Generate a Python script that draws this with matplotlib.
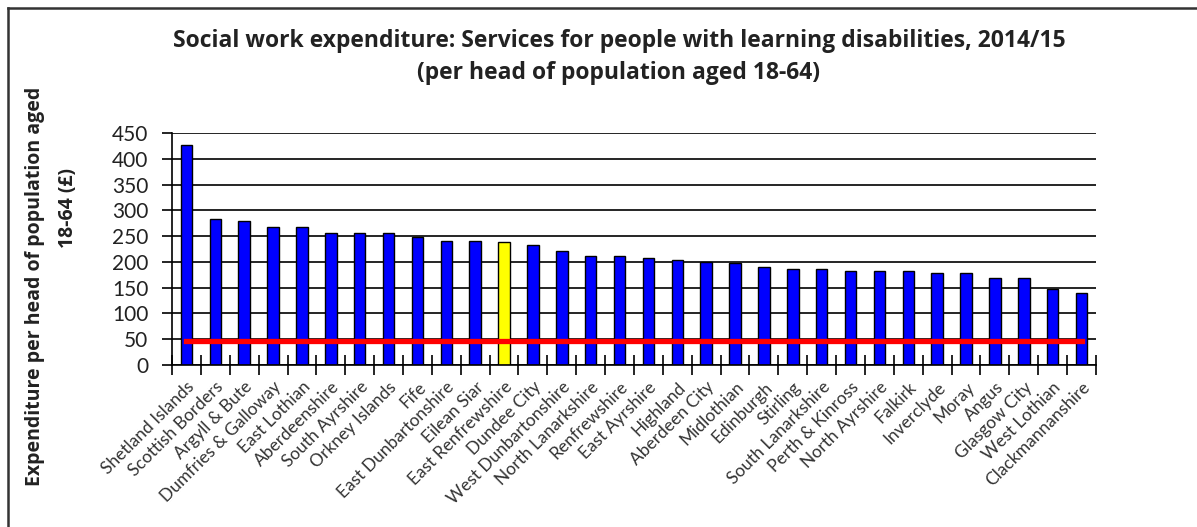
import matplotlib
matplotlib.use("Agg")
import matplotlib.pyplot as plt
from matplotlib.lines import Line2D
import numpy as np

# council names, in chart order
councils = [
    "Shetland Islands", "Scottish Borders", "Argyll & Bute", "Dumfries & Galloway",
    "East Lothian", "Aberdeenshire", "South Ayrshire", "Orkney Islands", "Fife",
    "East Dunbartonshire", "Eilean Siar", "East Renfrewshire", "Dundee City",
    "West Dunbartonshire", "North Lanarkshire", "Renfrewshire", "East Ayrshire",
    "Highland", "Aberdeen City", "Midlothian", "Edinburgh", "Stirling",
    "South Lanarkshire", "Perth & Kinross", "North Ayrshire", "Falkirk",
    "Inverclyde", "Moray", "Angus", "Glasgow City", "West Lothian",
    "Clackmannanshire",
]

# expenditure per head aged 18-64 (GBP)
spend = [
    426, 283, 279, 268, 268, 257, 257, 257, 249, 240, 240, 239, 233, 222,
    211, 211, 207, 204, 199, 198, 190, 186, 186, 182, 182, 182, 179, 179,
    168, 168, 148, 140,
]

highlight = "East Renfrewshire"
red_line_value = 47

y_ticks = [0, 50, 100, 150, 200, 250, 300, 350, 400, 450]

FONT = "Lato"
BOLD_FONT = "Open Sans"

fig = plt.figure(figsize=(11.97, 5.27), dpi=100)
ax = fig.add_axes([0.1437, 0.3074, 0.7719, 0.4402])

x = np.arange(len(councils))
colors = ["#FFFF00" if c == highlight else "#0000FF" for c in councils]
ax.set_axisbelow(True)
ax.grid(axis="y", color="black", linewidth=1.2)
ax.bar(x, spend, width=0.4, color=colors, edgecolor="black", linewidth=1.0, zorder=2)
ax.plot(x, [red_line_value] * len(x), color="#FF0000", linewidth=3.8, zorder=3)

ax.set_xlim(-0.5, len(councils) - 0.5)
ax.set_ylim(0, 450)
ax.set_yticks(y_ticks)
ax.set_yticklabels([str(v) for v in y_ticks], fontsize=15, family=FONT, color="#222222")

ax.set_xticks(x)
ax.set_xticklabels(councils, rotation=45, ha="right", va="top",
                   rotation_mode="anchor", fontsize=12.5, family=FONT, color="#333333")
ax.tick_params(axis="x", which="major", length=0, pad=10)
ax.set_xticks(np.arange(-0.5, len(councils), 1.0), minor=True)
ax.tick_params(axis="x", which="minor", direction="inout", length=14, width=1.2)
ax.tick_params(axis="y", direction="out", length=7, width=1.2, pad=10)

ax.spines["top"].set_visible(False)
ax.spines["right"].set_visible(False)
ax.spines["left"].set_linewidth(1.2)
ax.spines["bottom"].set_linewidth(1.2)

fig.text(0.517, 0.922, "Social work expenditure: Services for people with learning disabilities, 2014/15",
         ha="center", va="center", fontsize=16.5, fontweight="bold", family=BOLD_FONT, color="#222222")
fig.text(0.517, 0.861, "(per head of population aged 18-64)",
         ha="center", va="center", fontsize=16.5, fontweight="bold", family=BOLD_FONT, color="#222222")

fig.text(0.0292, 0.457, "Expenditure per head of population aged", rotation=90,
         ha="center", va="center", fontsize=14, fontweight="bold", family=BOLD_FONT, color="#222222")
fig.text(0.0568, 0.605, "18-64 (£)", rotation=90,
         ha="center", va="center", fontsize=14, fontweight="bold", family=BOLD_FONT, color="#222222")

# outer frame (left and top edges only)
fig.add_artist(Line2D([0.0067, 0.0067], [0.0, 0.985], transform=fig.transFigure,
                      color="#333333", linewidth=1.8))
fig.add_artist(Line2D([0.0067, 1.0], [0.985, 0.985], transform=fig.transFigure,
                      color="#333333", linewidth=1.8))

fig.savefig("out.png", dpi=100)
